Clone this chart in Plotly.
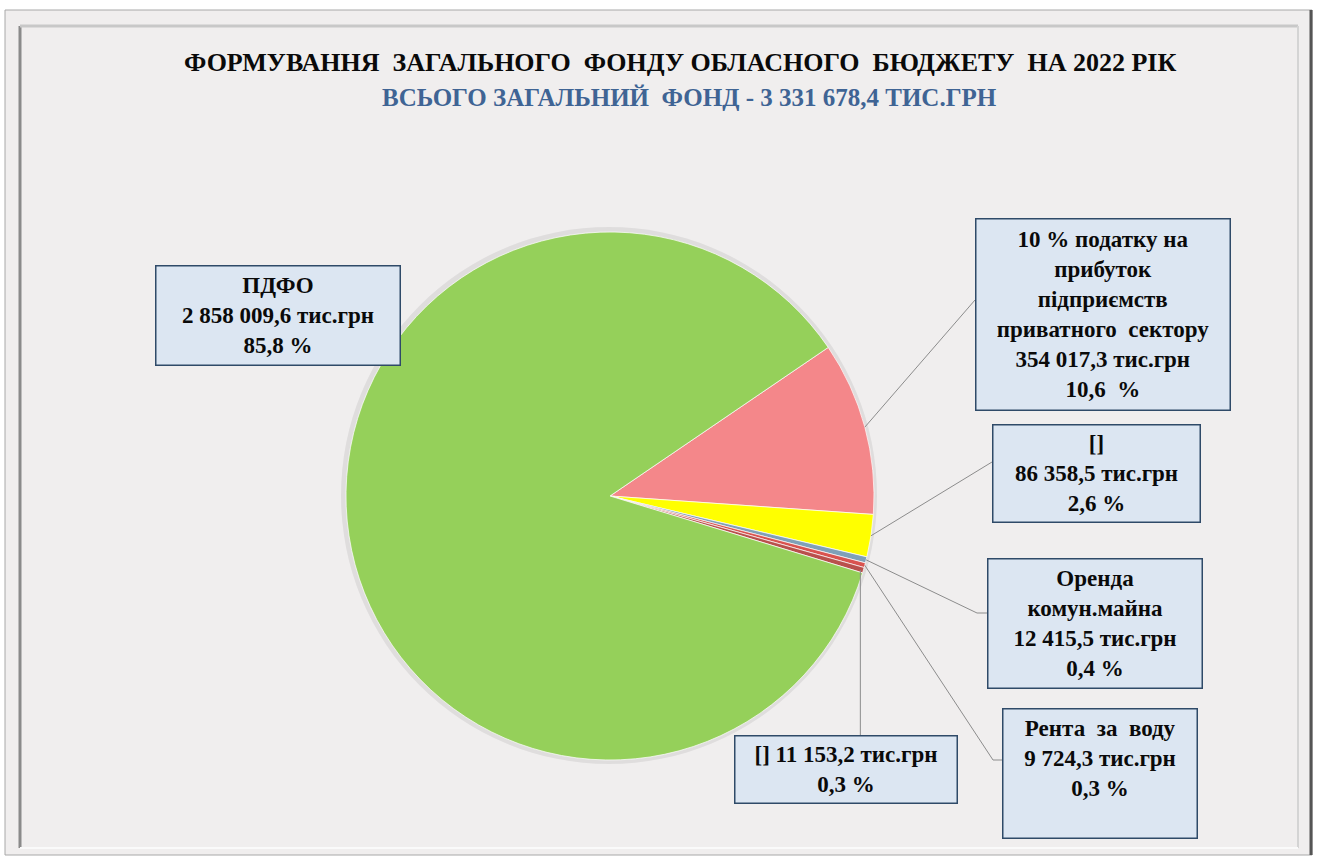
import math
import plotly.graph_objects as go

# ---- data ----
labels = [
    "10 % податку на прибуток підприємств приватного сектору",
    "[] 86 358,5",
    "Оренда комун.майна",
    "Рента за воду",
    "[] 11 153,2",
    "ПДФО",
]
values = [354017.3, 86358.5, 12415.5, 9724.3, 11153.2, 2858009.6]
colors = ["#F4878A", "#FFFF00", "#7FA0B8", "#D9534F", "#B9504C", "#95D05A"]
box_texts = [
    "10 % податку на<br>прибуток<br>підприємств<br>приватного  сектору<br>354 017,3 тис.грн<br>10,6  %",
    "[]<br>86 358,5 тис.грн<br>2,6 %",
    "Оренда<br>комун.майна<br>12 415,5 тис.грн<br>0,4 %",
    "Рента  за  воду<br>9 724,3 тис.грн<br>0,3 %<br> ",
    "[] 11 153,2 тис.грн<br>0,3 %",
    "ПДФО<br>2 858 009,6 тис.грн<br>85,8 %",
]
title_text = "ФОРМУВАННЯ  ЗАГАЛЬНОГО  ФОНДУ ОБЛАСНОГО  БЮДЖЕТУ  НА 2022 РІК"
subtitle_text = "ВСЬОГО ЗАГАЛЬНИЙ  ФОНД - 3 331 678,4 ТИС.ГРН"

W, H = 1319, 859
ROT = 55.75
CX, CY, R = 610, 496, 264

def px(x):
    return x / W

def py(y):
    return 1 - y / H

fig = go.Figure()

# background frame
shapes = [
    dict(type="rect", xref="paper", yref="paper", x0=px(5), x1=px(1312), y0=py(855), y1=py(10),
         fillcolor="#F0EEEE", line=dict(color="#A8A8A8", width=1), layer="below"),
    dict(type="line", xref="paper", yref="paper", x0=px(20), x1=px(20), y0=py(848), y1=py(26),
         line=dict(color="#8A8A8A", width=3), layer="below"),
    dict(type="line", xref="paper", yref="paper", x0=px(20), x1=px(1298), y0=py(26), y1=py(26),
         line=dict(color="#C8C8C8", width=3), layer="below"),
    dict(type="line", xref="paper", yref="paper", x0=px(1298), x1=px(1298), y0=py(848), y1=py(26),
         line=dict(color="#D4D4D4", width=2), layer="below"),
    dict(type="line", xref="paper", yref="paper", x0=px(1311), x1=px(1311), y0=py(855), y1=py(10),
         line=dict(color="#555555", width=3), layer="below"),
    dict(type="line", xref="paper", yref="paper", x0=px(20), x1=px(1298), y0=py(848), y1=py(848),
         line=dict(color="#FAFAFA", width=2), layer="below"),
    # soft shadow around the pie
    dict(type="circle", xref="paper", yref="paper", x0=px(CX - R - 5), x1=px(CX + R + 3),
         y0=py(CY + R + 4), y1=py(CY - R - 5), fillcolor="rgba(0,0,0,0.07)",
         line=dict(width=0), layer="below"),
]

fig.add_trace(go.Pie(
    labels=labels, values=values, sort=False, direction="clockwise", rotation=ROT,
    marker=dict(colors=colors, line=dict(color="rgba(255,255,255,0.7)", width=1)),
    textinfo="none", hoverinfo="label+value+percent", showlegend=False,
    domain=dict(x=[px(CX - R), px(CX + R)], y=[py(CY + R), py(CY - R)]),
))

# leader-line start points from slice geometry
total = sum(values)
mids = []
cum = 0
for v in values:
    a = math.radians(ROT + 360 * (cum + v / 2) / total)
    mids.append((CX + R * math.sin(a), CY - R * math.cos(a)))
    cum += v

# leader lines (end points at box edges)
leader_ends = {
    0: [(975, 300)],
    1: [(992, 462)],
    2: [(977, 613), (987, 613)],
    3: [(993, 760), (1002, 760)],
}
for i, pts in leader_ends.items():
    path = [mids[i]] + pts
    d = "M " + " L ".join(f"{px(x)} {py(y)}" for x, y in path)
    shapes.append(dict(type="path", xref="paper", yref="paper", path=d,
                       line=dict(color="#8C8C8C", width=1)))
# vertical leader for [] 11 153,2
sx, sy = mids[4]
shapes.append(dict(type="line", xref="paper", yref="paper", x0=px(sx - 3), x1=px(sx - 3),
                   y0=py(sy), y1=py(735), line=dict(color="#8C8C8C", width=1)))

# label boxes (x0, x1, y0, y1)
boxes = [
    (975, 1230, 218, 410),
    (992, 1200, 425, 523),
    (987, 1202, 558, 688),
    (1002, 1197, 708, 838),
    (735, 958, 735, 803),
    (155, 400, 265, 365),
]
annotations = []
for (x0, x1, y0, y1), t in zip(boxes, box_texts):
    annotations.append(dict(
        x=px((x0 + x1) / 2), y=py((y0 + y1) / 2), xref="paper", yref="paper",
        xanchor="center", yanchor="middle",
        text="<b>" + t.replace("<br>", "</b><br><b>") + "</b>", showarrow=False,
        width=x1 - x0 - 4, height=y1 - y0 - 4, borderpad=1, align="center", valign="middle",
        bgcolor="#DCE6F2", bordercolor="#2F4A68", borderwidth=1.5,
        font=dict(family="Liberation Serif", size=23, color="#0A0A0A"),
    ))

annotations.append(dict(x=px(680), y=py(62), xref="paper", yref="paper", xanchor="center",
                        yanchor="middle", showarrow=False, text=f"<b>{title_text}</b>",
                        font=dict(family="Liberation Serif", size=26, color="#0A0A0A")))
annotations.append(dict(x=px(689), y=py(97), xref="paper", yref="paper", xanchor="center",
                        yanchor="middle", showarrow=False, text=f"<b>{subtitle_text}</b>",
                        font=dict(family="Liberation Serif", size=25, color="#3F6494")))

fig.update_layout(
    width=W, height=H, margin=dict(l=0, r=0, t=0, b=0),
    paper_bgcolor="#FFFFFF", plot_bgcolor="#FFFFFF",
    shapes=shapes, annotations=annotations,
)

fig.write_html("out.html", config={"displayModeBar": False},
               post_script="document.body.style.margin='0px';document.body.style.overflow='hidden';")
